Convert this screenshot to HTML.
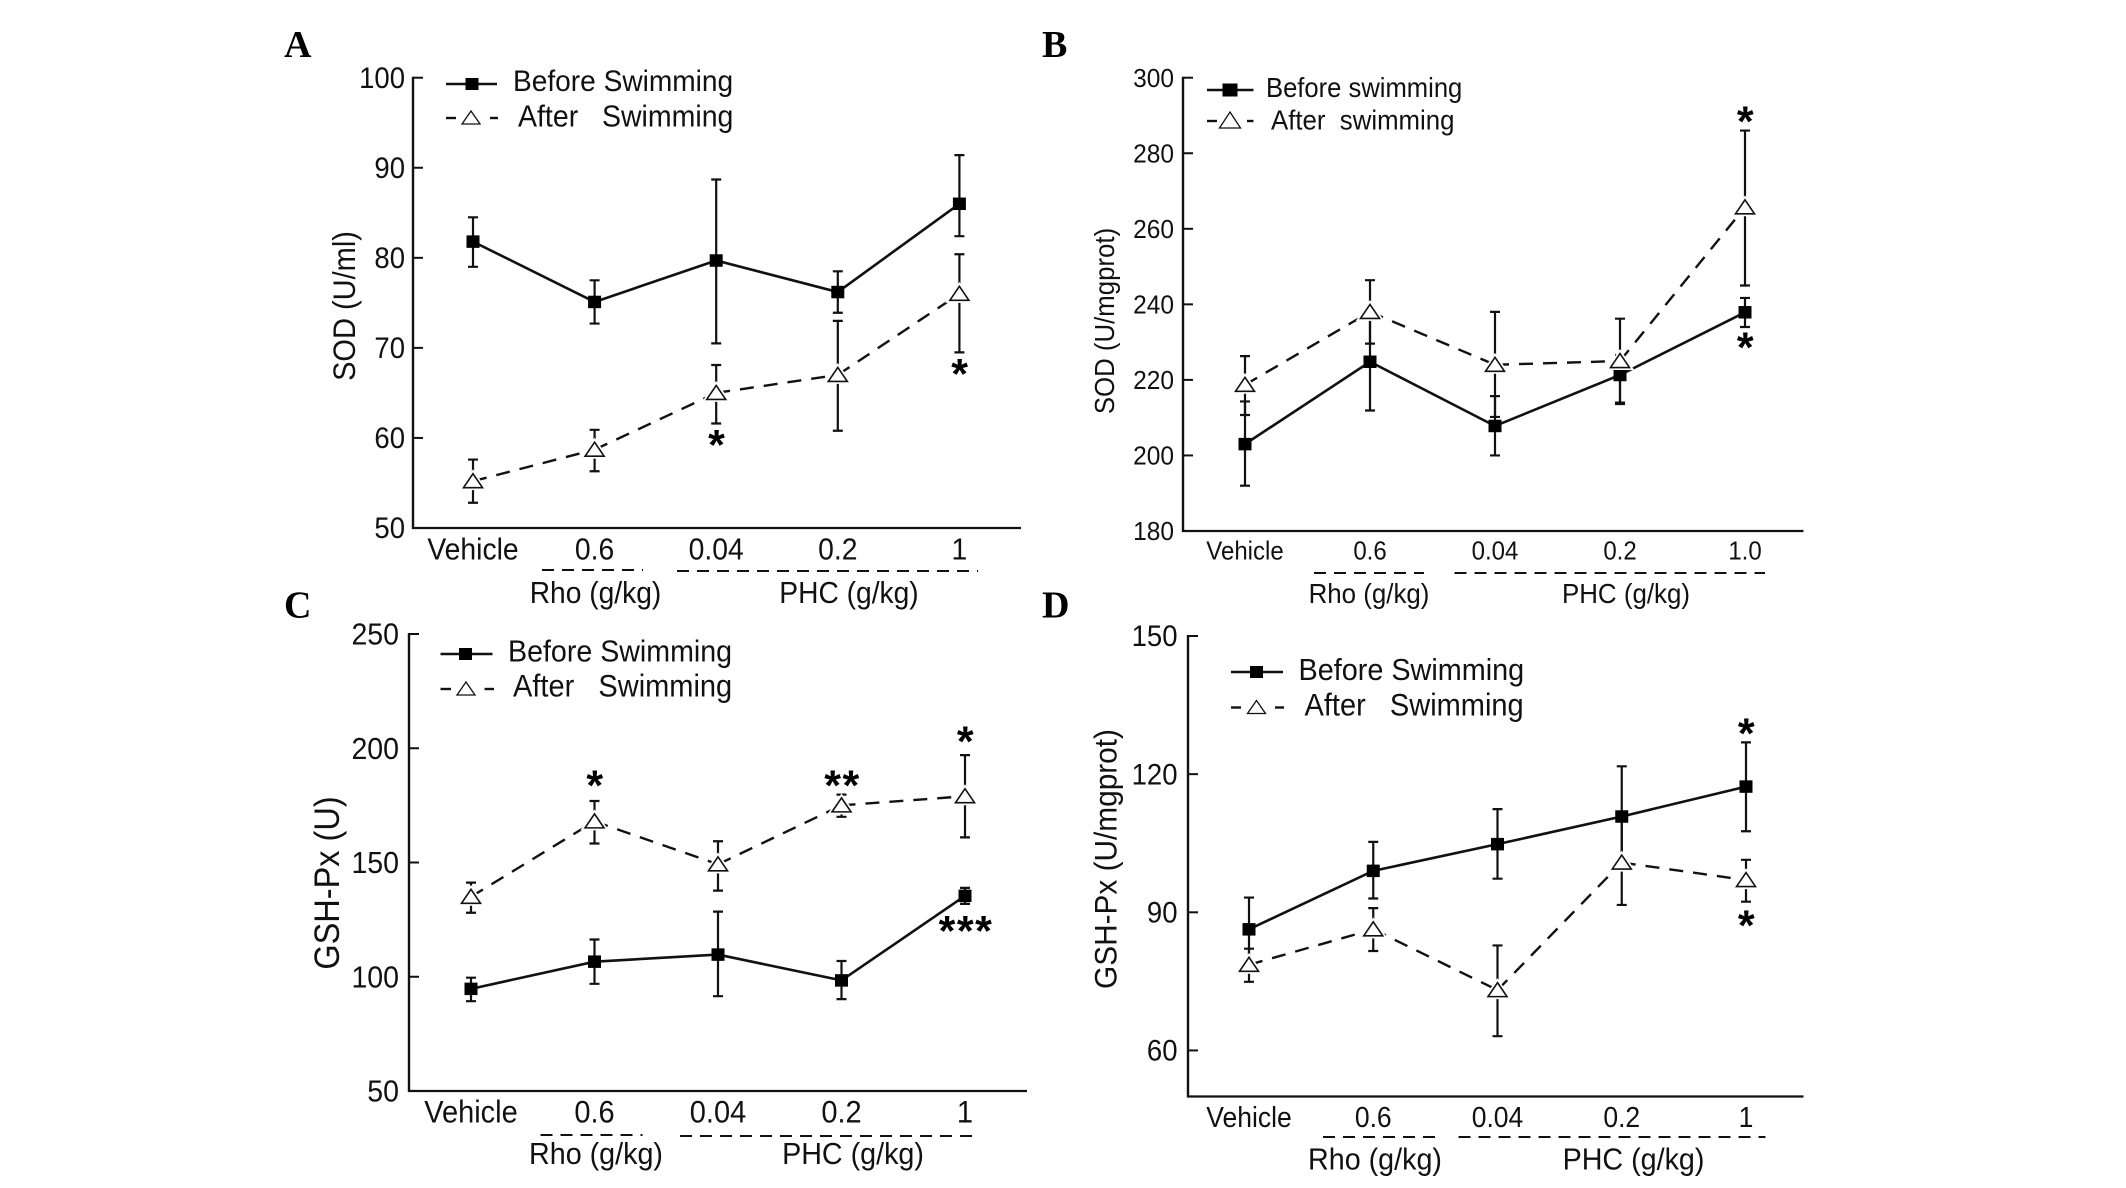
<!DOCTYPE html>
<html lang="en">
<head>
<meta charset="utf-8">
<title>SOD and GSH-Px before and after swimming</title>
<style>
html,body{margin:0;padding:0;background:#fff;}
svg{display:block;}
text{font-family:"Liberation Sans",Arial,sans-serif;fill:#111;white-space:pre;}
.letter{font-family:"Liberation Serif",serif;font-weight:bold;font-size:38px;fill:#000;}
.rule{stroke:#111;stroke-width:2;stroke-dasharray:12 8;fill:none;}
.leg{stroke:#111;stroke-width:2.4;}
</style>
</head>
<body>
<svg id="figure" width="2126" height="1188" viewBox="0 0 2126 1188" xmlns="http://www.w3.org/2000/svg">
  <rect x="0" y="0" width="2126" height="1188" fill="#fff"/>

  <g id="panel-a">
    <text class="letter" x="284" y="57">A</text>
    <text transform="translate(355,306) rotate(-90)" text-anchor="middle" font-size="29">SOD (U/ml)</text>
    <g>
      <line class="leg" x1="446" y1="84" x2="497" y2="84"/>
      <rect x="465.5" y="78" width="13" height="12" fill="#000"/>
      <text x="513" y="91" font-size="28.1">Before Swimming</text>
      <line class="leg" x1="446" y1="118" x2="456" y2="118"/>
      <line class="leg" x1="490" y1="118" x2="498" y2="118"/>
      <polygon points="471,111 480,124 462,124" fill="#fff" stroke="#111" stroke-width="1.3"/>
      <text x="518" y="126.5" font-size="28.5">After   Swimming</text>
    </g>
    <line class="rule" x1="542" y1="570" x2="643" y2="570"/>
    <line class="rule" x1="677" y1="571" x2="978" y2="571"/>
    <text x="595.5" y="603" text-anchor="middle" font-size="28.2">Rho (g/kg)</text>
    <text x="849" y="603" text-anchor="middle" font-size="28.2">PHC (g/kg)</text>
  </g>

  <g id="panel-b">
    <text class="letter" x="1042" y="57">B</text>
    <text transform="translate(1114,321) rotate(-90)" text-anchor="middle" font-size="25.8">SOD (U/mgprot)</text>
    <g>
      <line class="leg" x1="1207" y1="90" x2="1253.5" y2="90"/>
      <rect x="1222.5" y="83.5" width="15" height="13" fill="#000"/>
      <text x="1266" y="97" font-size="25.6">Before swimming</text>
      <line class="leg" x1="1207" y1="121" x2="1217" y2="121"/>
      <line class="leg" x1="1247" y1="121" x2="1253.5" y2="121"/>
      <polygon points="1230,112 1240.5,128 1219.5,128" fill="#fff" stroke="#111" stroke-width="1.3"/>
      <text x="1271" y="129.5" font-size="25.8">After  swimming</text>
    </g>
    <line class="rule" x1="1314" y1="573" x2="1424" y2="573"/>
    <line class="rule" x1="1454.5" y1="573" x2="1765" y2="573"/>
    <text x="1369" y="603" text-anchor="middle" font-size="25.9">Rho (g/kg)</text>
    <text x="1626" y="603" text-anchor="middle" font-size="25.9">PHC (g/kg)</text>
  </g>

  <g id="panel-c">
    <text class="letter" x="284" y="617.5">C</text>
    <text transform="translate(339,883) rotate(-90)" text-anchor="middle" font-size="32.5">GSH-Px (U)</text>
    <g>
      <line class="leg" x1="440.5" y1="654" x2="492.5" y2="654"/>
      <rect x="459" y="648" width="13" height="12" fill="#000"/>
      <text x="508" y="661.5" font-size="28.6">Before Swimming</text>
      <line class="leg" x1="440.5" y1="689" x2="451" y2="689"/>
      <line class="leg" x1="484.5" y1="689" x2="494" y2="689"/>
      <polygon points="466,682 475,695 457,695" fill="#fff" stroke="#111" stroke-width="1.3"/>
      <text x="513" y="696.5" font-size="29">After   Swimming</text>
    </g>
    <line class="rule" x1="540.5" y1="1135" x2="642.5" y2="1135"/>
    <line class="rule" x1="680" y1="1136" x2="979.5" y2="1136"/>
    <text x="596" y="1164" text-anchor="middle" font-size="28.7">Rho (g/kg)</text>
    <text x="853" y="1164" text-anchor="middle" font-size="28.7">PHC (g/kg)</text>
  </g>

  <g id="panel-d">
    <text class="letter" x="1042" y="617.5">D</text>
    <text transform="translate(1116.5,859) rotate(-90)" text-anchor="middle" font-size="29.8">GSH-Px (U/mgprot)</text>
    <g>
      <line class="leg" x1="1231" y1="672" x2="1283" y2="672"/>
      <rect x="1250" y="666" width="13" height="12" fill="#000"/>
      <text x="1298.5" y="680" font-size="28.8">Before Swimming</text>
      <line class="leg" x1="1231" y1="707.5" x2="1241" y2="707.5"/>
      <line class="leg" x1="1275" y1="707.5" x2="1284" y2="707.5"/>
      <polygon points="1256.5,700.5 1265.5,713.5 1247.5,713.5" fill="#fff" stroke="#111" stroke-width="1.3"/>
      <text x="1304.5" y="715.5" font-size="29">After   Swimming</text>
    </g>
    <line class="rule" x1="1323" y1="1137" x2="1440.5" y2="1137"/>
    <line class="rule" x1="1458.5" y1="1137" x2="1765.5" y2="1137"/>
    <text x="1375" y="1169.5" text-anchor="middle" font-size="28.7">Rho (g/kg)</text>
    <text x="1633.5" y="1169.5" text-anchor="middle" font-size="28.7">PHC (g/kg)</text>
  </g>
</svg>

<script>
// ---- Panel A data ----
const categoriesA = ['Vehicle', '0.6', '0.04', '0.2', '1'];
const yTicksA = [50, 60, 70, 80, 90, 100];
const beforeA = [81.8, 75.1, 79.7, 76.2, 86];
const beforeUpperA = [84.5, 77.5, 88.7, 78.5, 91.4];
const beforeLowerA = [79, 72.7, 70.5, 73.9, 82.4];
const afterA = [55.2, 58.7, 65, 67, 76];
const afterUpperA = [57.6, 60.9, 68.1, 73, 80.4];
const afterLowerA = [52.8, 56.3, 61.6, 60.8, 69.5];
const starTextA = ['*', '*'];
const starCategoryA = [2, 4];
const starValueA = [60, 67.9];

// ---- Panel B data ----
const categoriesB = ['Vehicle', '0.6', '0.04', '0.2', '1.0'];
const yTicksB = [180, 200, 220, 240, 260, 280, 300];
const beforeB = [203, 224.8, 207.8, 221.3, 237.9];
const beforeUpperB = [214.3, 237.7, 215.7, 226.5, 241.7];
const beforeLowerB = [192, 211.9, 200, 213.6, 234];
const afterB = [218.7, 238, 224, 225, 265.7];
const afterUpperB = [226.3, 246.4, 238, 236.2, 286];
const afterLowerB = [210.7, 229.6, 210.2, 214, 245];
const starTextB = ['*', '*'];
const starCategoryB = [4, 4];
const starValueB = [290.2, 230.4];

// ---- Panel C data ----
const categoriesC = ['Vehicle', '0.6', '0.04', '0.2', '1'];
const yTicksC = [50, 100, 150, 200, 250];
const beforeC = [94.7, 106.6, 109.7, 98.4, 135.4];
const beforeUpperC = [99.6, 116.3, 128.5, 106.9, 138.9];
const beforeLowerC = [89.3, 96.9, 91.5, 90.2, 131.9];
const afterC = [135, 168, 149.2, 175, 179];
const afterUpperC = [141.2, 176.9, 159.3, 179.7, 197];
const afterLowerC = [128, 158.3, 137.7, 170, 161];
const starTextC = ['*', '**', '*', '***'];
const starCategoryC = [1, 3, 4, 4];
const starValueC = [186.7, 186.7, 206, 123.1];

// ---- Panel D data ----
const categoriesD = ['Vehicle', '0.6', '0.04', '0.2', '1'];
const yTicksD = [60, 90, 120, 150];
const beforeD = [86.3, 99, 104.8, 110.8, 117.3];
const beforeUpperD = [93.2, 105.3, 112.4, 121.7, 126.9];
const beforeLowerD = [79.4, 93, 97.3, 100, 107.6];
const afterD = [78.6, 86.3, 73.1, 100.8, 97];
const afterUpperD = [82.1, 90.9, 82.8, 109.8, 101.4];
const afterLowerD = [74.9, 81.6, 63.1, 91.6, 92.3];
const starTextD = ['*', '*'];
const starCategoryD = [4, 4];
const starValueD = [130.4, 88.6];

const SVGNS = 'http://www.w3.org/2000/svg';
function mk(tag, attrs, parent) {
  const el = document.createElementNS(SVGNS, tag);
  for (const k in attrs) el.setAttribute(k, attrs[k]);
  parent.appendChild(el);
  return el;
}

function drawPanel(p, d) {
  const root = document.getElementById('panel-' + p.id);
  const xScale = i => p.x0 + i * p.dx;
  const yScale = v => p.yMinPx + (v - p.yMin) / (p.yMax - p.yMin) * (p.yMaxPx - p.yMinPx);
  const INK = '#111';

  // axes
  const yAxis = mk('line', {x1: p.axisX, y1: yScale(p.yMax) - 1, x2: p.axisX, y2: p.yMinPx + 1, stroke: INK, 'stroke-width': 2.4}, root);
  
  
  const xAxis = mk('line', {x1: p.axisX - 1, y1: p.yMinPx, x2: p.axisEnd, y2: p.yMinPx, stroke: INK, 'stroke-width': 2.2}, root);
  
  

  // y ticks and labels
  d.yTicks.forEach(v => {
    const tick = mk('line', {x1: p.axisX, y1: yScale(v), x2: p.axisX + 10, y2: yScale(v), stroke: INK, 'stroke-width': 2}, root);
    
    
    const label = mk('text', {x: p.tickRight, y: yScale(v) + p.tickSize * 0.37, 'text-anchor': 'end', 'font-size': p.tickSize}, root);
    
    
    label.textContent = v;
  });

  // x category labels
  d.categories.forEach((c, i) => {
    const label = mk('text', {x: xScale(i), y: p.catBaseline, 'text-anchor': 'middle', 'font-size': p.catSize}, root);
    
    
    label.textContent = c;
  });

  // series lines
  const solid = mk('polyline', {
    points: d.before.map((v, i) => xScale(i) + ',' + yScale(v)).join(' '),
    fill: 'none', stroke: INK, 'stroke-width': 2.6
  }, root);
  
  

  let dashedPath = '';
  for (let i = 0; i < d.after.length - 1; i++) {
    dashedPath += 'M' + xScale(i) + ' ' + yScale(d.after[i]) + 'L' + xScale(i + 1) + ' ' + yScale(d.after[i + 1]);
  }
  const dashed = mk('path', {d: dashedPath, fill: 'none', stroke: INK, 'stroke-width': 2.4, 'stroke-dasharray': '14 10'}, root);
  
  

  // error bars
  function errorBars(name, upper, lower) {
    upper.forEach((u, i) => {
      const x = xScale(i);
      const bar = mk('path', {
        d: 'M' + (x - 5) + ' ' + yScale(u) + 'H' + (x + 5) +
           'M' + x + ' ' + yScale(u) + 'V' + yScale(lower[i]) +
           'M' + (x - 5) + ' ' + yScale(lower[i]) + 'H' + (x + 5),
        fill: 'none', stroke: INK, 'stroke-width': 2.2
      }, root);
      
      
    });
  }
  errorBars('before', d.beforeUpper, d.beforeLower);
  errorBars('after', d.afterUpper, d.afterLower);

  // markers
  d.before.forEach((v, i) => {
    const sq = mk('rect', {x: xScale(i) - p.sq / 2, y: yScale(v) - p.sq * 0.48, width: p.sq, height: p.sq * 0.96, fill: '#000'}, root);
    
    
  });
  d.after.forEach((v, i) => {
    const x = xScale(i), y = yScale(v);
    const pts = x + ',' + (y - 7.5) + ' ' + (x + 9.5) + ',' + (y + 6.5) + ' ' + (x - 9.5) + ',' + (y + 6.5);
    const halo = mk('polygon', {points: pts, fill: '#fff', stroke: '#fff', 'stroke-width': 5}, root);
    
    
    const tri = mk('polygon', {points: pts, fill: '#fff', stroke: INK, 'stroke-width': 1.6}, root);
    
    
  });

  // significance stars
  d.starText.forEach((s, k) => {
    const size = 43;
    const star = mk('text', {
      x: xScale(d.starCategory[k]) + 1,
      y: yScale(d.starValue[k]) + size * 0.5,
      'text-anchor': 'middle', 'font-size': size, 'font-weight': 'bold',
      'letter-spacing': 1.5, 'style': 'fill:#000'
    }, root);
    
    
    star.textContent = s;
  });
}

drawPanel(
  {id: 'a', axisX: 413, axisEnd: 1021, x0: 473, dx: 121.6, yMin: 50, yMax: 100, yMinPx: 528, yMaxPx: 77.7, tickRight: 405, tickSize: 27.5, catBaseline: 559.5, catSize: 28.3, sq: 13},
  {categories: categoriesA, yTicks: yTicksA, before: beforeA, beforeUpper: beforeUpperA, beforeLower: beforeLowerA, after: afterA, afterUpper: afterUpperA, afterLower: afterLowerA, starText: starTextA, starCategory: starCategoryA, starValue: starValueA}
);
drawPanel(
  {id: 'b', axisX: 1183, axisEnd: 1803.5, x0: 1245, dx: 125, yMin: 180, yMax: 300, yMinPx: 531, yMaxPx: 77.7, tickRight: 1174, tickSize: 24.5, catBaseline: 559.5, catSize: 24, sq: 13},
  {categories: categoriesB, yTicks: yTicksB, before: beforeB, beforeUpper: beforeUpperB, beforeLower: beforeLowerB, after: afterB, afterUpper: afterUpperB, afterLower: afterLowerB, starText: starTextB, starCategory: starCategoryB, starValue: starValueB}
);
drawPanel(
  {id: 'c', axisX: 409, axisEnd: 1027, x0: 471, dx: 123.5, yMin: 50, yMax: 250, yMinPx: 1091, yMaxPx: 634, tickRight: 399, tickSize: 28.5, catBaseline: 1122.5, catSize: 29, sq: 13},
  {categories: categoriesC, yTicks: yTicksC, before: beforeC, beforeUpper: beforeUpperC, beforeLower: beforeLowerC, after: afterC, afterUpper: afterUpperC, afterLower: afterLowerC, starText: starTextC, starCategory: starCategoryC, starValue: starValueC}
);
drawPanel(
  {id: 'd', axisX: 1188, axisEnd: 1803.5, x0: 1249, dx: 124.25, yMin: 50, yMax: 150, yMinPx: 1096.5, yMaxPx: 636, tickRight: 1177.5, tickSize: 27.5, catBaseline: 1127, catSize: 26.5, sq: 13},
  {categories: categoriesD, yTicks: yTicksD, before: beforeD, beforeUpper: beforeUpperD, beforeLower: beforeLowerD, after: afterD, afterUpper: afterUpperD, afterLower: afterLowerD, starText: starTextD, starCategory: starCategoryD, starValue: starValueD}
);

// The reference type is slightly taller and narrower than Liberation Sans:
// keep each label's measured width while enlarging its glyphs.
document.querySelectorAll('#figure text:not(.letter)').forEach(t => {
  if (t.textContent.indexOf('*') !== -1) return;
  const width = t.getComputedTextLength();
  const size = parseFloat(t.getAttribute('font-size'));
  t.setAttribute('font-size', size * 1.07);
  t.setAttribute('textLength', width);
  t.setAttribute('lengthAdjust', 'spacingAndGlyphs');
});
</script>
</body>
</html>
